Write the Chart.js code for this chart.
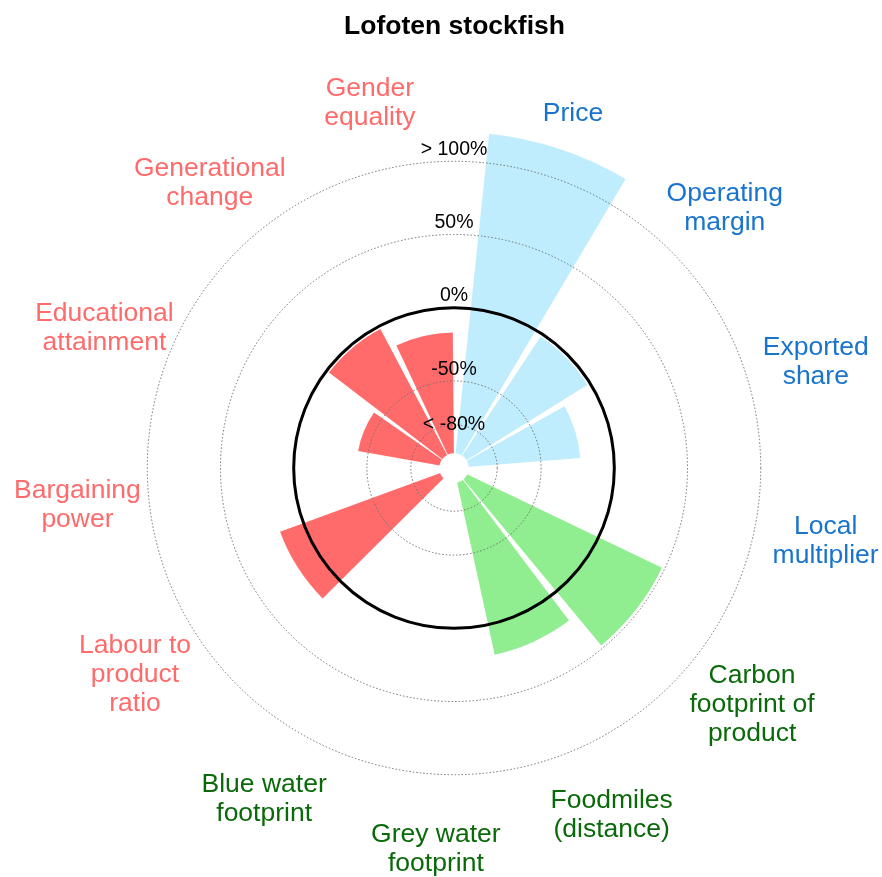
<!DOCTYPE html>
<html>
<head>
<meta charset="utf-8">
<title>Lofoten stockfish</title>
<script src="https://cdn.jsdelivr.net/npm/chart.js@4.4.1/dist/chart.umd.min.js"></script>
<style>
  html, body { margin: 0; padding: 0; background: #fff; }
  #wrap { width: 882px; height: 877px; }
</style>
</head>
<body>
<div id="wrap"><canvas id="chart" width="882" height="877"></canvas></div>
<script>
(function() {
    'use strict';

    // indicators, clockwise from the top
    var categories = [
        ['Price'], ['Operating', 'margin'], ['Exported', 'share'], ['Local', 'multiplier'],
        ['Carbon', 'footprint of', 'product'], ['Foodmiles', '(distance)'], ['Grey water', 'footprint'], ['Blue water', 'footprint'],
        ['Labour to', 'product', 'ratio'], ['Bargaining', 'power'], ['Educational', 'attainment'], ['Generational', 'change'], ['Gender', 'equality']
    ];
    var groups = ['econ', 'econ', 'econ', 'econ', 'env', 'env', 'env', 'env', 'social', 'social', 'social', 'social', 'social'];
    // % difference, clipped at the axis ends (> 100%, < -80%)
    var values = [120, -2, -23, -100, 48, 21, -100, -100, 17, -100, -43, -2, -17];
    var tickValues = [-80, -50, 0, 50, 100];
    var tickLabels = ['< -80%', '-50%', '0%', '50%', '> 100%'];

    var AXIS_MIN = -109.5, AXIS_MAX = 120, HOLE = -100;
    var barColors = { econ: '#BFEDFD', env: '#90EE90', social: '#FF6B6B' };
    var textColors = { econ: '#1874CD', env: '#0A6A0A', social: '#FF6B6B' };
    var FONT = "'Liberation Sans', Arial, Helvetica, sans-serif";

    // ====== wedges: bars with thin empty wedges in between ======
    var LEAD = 6.0, BAR = 24.7, GAP = 2.7, NONE = 'rgba(0,0,0,0)';
    var rData = [AXIS_MIN], angles = [LEAD], fills = [NONE], labels = [''], barIdx = [];
    values.forEach(function(v, i) {
        if (i > 0) { rData.push(AXIS_MIN); angles.push(GAP); fills.push(NONE); labels.push(''); }
        barIdx.push(rData.length);
        rData.push(v); angles.push(BAR); fills.push(barColors[groups[i]]); labels.push(categories[i].join(' '));
    });
    var used = angles.reduce(function(a, b) { return a + b; }, 0);
    rData.push(AXIS_MIN); angles.push(360 - used); fills.push(NONE); labels.push('');

    var overlay = {
        id: 'overlay',
        afterDatasetsDraw: function(chart) {
            var s = chart.scales.r, ctx = chart.ctx;
            ctx.save();
            ctx.fillStyle = '#fff';
            ctx.beginPath();
            ctx.arc(s.xCenter, s.yCenter, s.getDistanceFromCenterForValue(HOLE) + 0.8, 0, Math.PI * 2);
            ctx.fill();
            ctx.restore();
        },
        afterDraw: function(chart) {
            var s = chart.scales.r, ctx = chart.ctx;
            var meta = chart.getDatasetMeta(0);
            ctx.save();
            ctx.textAlign = 'center';
            ctx.textBaseline = 'middle';

            // axis labels sit just above their ring
            ctx.font = '19.5px ' + FONT;
            ctx.fillStyle = '#000';
            var lift = [0.5, 11, 12, 12, 12];
            tickValues.forEach(function(v, j) {
                ctx.fillText(tickLabels[j], s.xCenter, s.yCenter - s.getDistanceFromCenterForValue(v) - lift[j]);
            });

            // indicator names around the outside
            ctx.font = '26.5px ' + FONT;
            var R = s.drawingArea + 42, LH = 29, DY = 4;
            barIdx.forEach(function(k, i) {
                var arc = meta.data[k];
                var a = (arc.startAngle + arc.endAngle) / 2;
                var x = s.xCenter + R * Math.cos(a), y = s.yCenter + R * Math.sin(a) + DY;
                var lines = categories[i];
                ctx.fillStyle = textColors[groups[i]];
                lines.forEach(function(t, n) {
                    ctx.fillText(t, x, y + (n - (lines.length - 1) / 2) * LH);
                });
            });
            ctx.restore();
        }
    };

    new Chart(document.getElementById('chart'), {
        type: 'polarArea',
        data: {
            labels: labels,
            datasets: [{
                data: rData,
                backgroundColor: fills,
                borderWidth: 0,
                angle: function(c) { return angles[c.dataIndex]; }
            }]
        },
        options: {
            responsive: false,
            animation: false,
            layout: { padding: { left: 118, right: 91, top: 0, bottom: 72 } },
            plugins: {
                legend: { display: false },
                tooltip: { enabled: false },
                title: {
                    display: true, text: 'Lofoten stockfish', color: '#000',
                    font: { family: FONT, size: 26.5, weight: 'bold', lineHeight: 1.2 },
                    padding: { top: 11, bottom: 89.4 }
                }
            },
            scales: {
                r: {
                    min: AXIS_MIN, max: AXIS_MAX,
                    startAngle: 0,
                    angleLines: { display: false },
                    pointLabels: { display: false },
                    ticks: { display: false },
                    afterBuildTicks: function(s) {
                        s.ticks = tickValues.map(function(v) { return { value: v }; });
                    },
                    grid: {
                        z: 1, circular: true,
                        color: function(c) { return c.tick && c.tick.value === 0 ? '#000' : '#707070'; },
                        lineWidth: function(c) { return c.tick && c.tick.value === 0 ? 3 : 1; }
                    },
                    border: {
                        dash: function(c) { return c.tick && c.tick.value === 0 ? [] : [1.5, 2]; }
                    }
                }
            }
        },
        plugins: [overlay]
    });
})();
</script>
</body>
</html>
